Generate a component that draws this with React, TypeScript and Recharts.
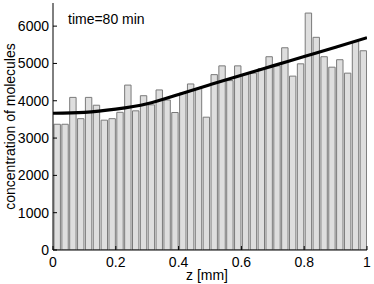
import React from 'react';
import { ComposedChart, Bar, Line, XAxis, YAxis } from 'recharts';

// histogram counts, 40 bins over z = 0..1 mm
const binCounts = [
  3370, 3370, 4090, 3520, 4090, 3880, 3480, 3520, 3690, 4420,
  3730, 4135, 3890, 4290, 4020, 3685, 4207, 4450, 4330, 3560,
  4700, 4935, 4540, 4935, 4700, 4740, 4860, 5180, 4935, 5420,
  4660, 4990, 6350, 5700, 5180, 4900, 5100, 4740, 5585, 5340,
];
// smooth theoretical profile
const curveZ = [0, 0.1, 0.2, 0.3, 0.4, 0.5, 0.6, 0.7, 0.8, 0.9, 1.0];
const curveC = [3665, 3690, 3775, 3920, 4170, 4430, 4685, 4935, 5185, 5435, 5690];

const xTicks = [0, 0.2, 0.4, 0.6, 0.8, 1];
const yTicks = [0, 1000, 2000, 3000, 4000, 5000, 6000];

const nBins = binCounts.length;
const barData = binCounts.map((n, i) => ({ z: (i + 0.5) / nBins, n }));
const curveData = curveZ.map((z, i) => ({ z, c: curveC[i] }));

const FONT = 'Liberation Sans, Arial, sans-serif';
const fmtX = (v: number) => (v === 0 ? '0' : v === 1 ? '1' : String(v));

const BottomTick = (p: any) => (
  <g>
    <line x1={p.x} x2={p.x} y1={p.y} y2={p.y - 4} stroke="#000" strokeWidth={1} />
    <text x={p.x} y={p.y + 16.5} textAnchor="middle" fontSize={14} fontFamily={FONT} fill="#000">
      {fmtX(p.payload.value)}
    </text>
  </g>
);
const TopTick = (p: any) => (
  <line x1={p.x} x2={p.x} y1={p.y} y2={p.y + 4} stroke="#000" strokeWidth={1} />
);
const LeftTick = (p: any) => (
  <g>
    <line x1={p.x} x2={p.x + 4} y1={p.y} y2={p.y} stroke="#000" strokeWidth={1} />
    <text x={p.x - 4} y={p.y} dy="0.36em" textAnchor="end" fontSize={14} fontFamily={FONT} fill="#000">
      {p.payload.value}
    </text>
  </g>
);
const RightTick = (p: any) => (
  <line x1={p.x} x2={p.x - 4} y1={p.y} y2={p.y} stroke="#000" strokeWidth={1} />
);

const YLabel = (props: any) => {
  const vb = props.viewBox || {};
  const cx = 10;
  const cy = (vb.y || 0) + (vb.height || 0) / 2;
  return (
    <text
      x={cx}
      y={cy}
      transform={`rotate(-90 ${cx} ${cy})`}
      textAnchor="middle"
      dominantBaseline="central"
      fontSize={14}
      fontFamily={FONT}
      fill="#000"
    >
      concentration of molecules
    </text>
  );
};

export default function App() {
  return (
    <div style={{ position: 'absolute', left: 0, top: 0, width: 374, height: 284, background: '#fff', fontFamily: FONT }}>
      <ComposedChart
        width={374}
        height={284}
        data={barData}
        margin={{ top: 3, right: 7, bottom: 0, left: 0 }}
      >
        <XAxis
          xAxisId="b"
          dataKey="z"
          type="number"
          domain={[0, 1]}
          ticks={xTicks}
          allowDataOverflow
          height={34}
          tickLine={false}
          tickSize={0}
          tickMargin={0}
          tick={<BottomTick />}
          axisLine={{ stroke: '#000' }}
          interval={0}
          label={{ value: 'z [mm]', position: 'insideBottom', offset: 4, dx: -3, fontSize: 14, fontFamily: FONT, fill: '#000' }}
        />
        <XAxis
          xAxisId="t"
          orientation="top"
          dataKey="z"
          type="number"
          domain={[0, 1]}
          ticks={xTicks}
          allowDataOverflow
          height={0}
          tickLine={false}
          tickSize={0}
          tickMargin={0}
          tick={<TopTick />}
          axisLine={{ stroke: '#000' }}
          interval={0}
        />
        <YAxis
          yAxisId="l"
          type="number"
          domain={[0, 6620]}
          ticks={yTicks}
          allowDataOverflow
          width={53}
          tickLine={false}
          tickSize={0}
          tickMargin={0}
          tick={<LeftTick />}
          axisLine={{ stroke: '#000' }}
          interval={0}
          label={<YLabel />}
        />
        <YAxis
          yAxisId="r"
          orientation="right"
          type="number"
          domain={[0, 6620]}
          ticks={yTicks}
          allowDataOverflow
          width={0}
          tickLine={false}
          tickSize={0}
          tickMargin={0}
          tick={<RightTick />}
          axisLine={{ stroke: '#000' }}
          interval={0}
        />
        <Bar
          xAxisId="b"
          yAxisId="l"
          dataKey="n"
          barSize={6.4}
          fill="#dedede"
          stroke="#7a7a7a"
          strokeWidth={1}
          isAnimationActive={false}
        />
        <Line
          xAxisId="t"
          yAxisId="l"
          data={curveData}
          dataKey="c"
          type="natural"
          stroke="#000"
          strokeWidth={3.2}
          dot={false}
          activeDot={false}
          isAnimationActive={false}
        />
      </ComposedChart>
      <div style={{ position: 'absolute', left: 68, top: 11, fontSize: 14, lineHeight: '16px', color: '#000', whiteSpace: 'nowrap' }}>
        time=80 min
      </div>
    </div>
  );
}
